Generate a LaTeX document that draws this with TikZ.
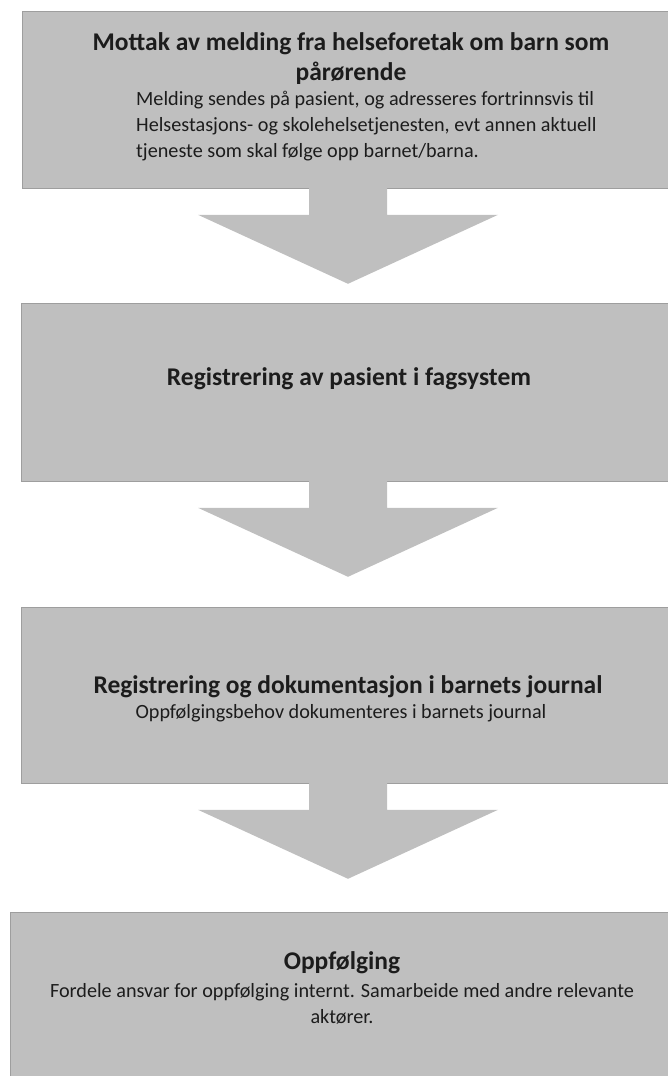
\documentclass[tikz,border=0pt]{standalone}
\usepackage{fontspec}
\setmainfont{Carlito}
\usepackage{tikz}

\definecolor{boxgray}{RGB}{191,191,191}
\definecolor{edgegray}{RGB}{158,158,158}
\definecolor{inkgray}{RGB}{28,28,28}

\begin{document}
\begin{tikzpicture}[
    x=1pt, y=-1pt,
    box/.style={rectangle, draw=edgegray, fill=boxgray, line width=0.8pt, anchor=north west, inner sep=0pt},
    headline/.style={font=\fontsize{25.5}{30}\selectfont\bfseries, text=inkgray, align=center, inner sep=0pt},
    bodytext/.style={font=\fontsize{20.2}{26}\selectfont, text=inkgray, inner sep=0pt},
    downarrow/.pic={
        \fill[boxgray] (-39,-1) -- (39,-1) -- (39,26) -- (150,26) -- (0,95) -- (-150,26) -- (-39,26) -- cycle;
    },
]
    \useasboundingbox (0,0) rectangle (668,1076);

    % the four steps
    \node[box, minimum width=650pt, minimum height=177pt] (mottak) at (22,11) {};
    \node[box, minimum width=651pt, minimum height=178pt] (pasient) at (21,303) {};
    \node[box, minimum width=651pt, minimum height=176pt] (journal) at (21,607) {};
    \node[box, minimum width=662pt, minimum height=170pt] (oppfolging) at (10,912) {};

    % block arrows between the steps
    \coordinate (axis) at (348,0);
    \foreach \from in {mottak,pasient,journal}
        \pic at (axis |- \from.south) {downarrow};

    % multi-line texts sit on the baseline of their last line
    \node[headline, anchor=base] (mottaktitle) at (351,80) {Mottak av melding fra helseforetak om barn som\\pårørende};
    \node[bodytext, align=left, anchor=base west] (mottakbody) at (136,157) {Melding sendes på pasient, og adresseres fortrinnsvis til\\Helsestasjons- og skolehelsetjenesten, evt annen aktuell\\tjeneste som skal følge opp barnet/barna.};

    \node[headline, anchor=base] (pasienttitle) at (349,385) {Registrering av pasient i fagsystem};

    \node[headline, anchor=base] (journaltitle) at (348,693) {Registrering og dokumentasjon i barnets journal};
    \node[bodytext, anchor=base] (journalbody) at (341,718) {Oppfølgingsbehov dokumenteres i barnets journal};

    \node[headline, anchor=base] (oppftitle) at (342,969) {Oppfølging};
    \node[bodytext, align=center, anchor=base] (oppfbody) at (342,1023) {Fordele ansvar for oppfølging internt. Samarbeide med andre relevante\\aktører.};
\end{tikzpicture}
\end{document}
